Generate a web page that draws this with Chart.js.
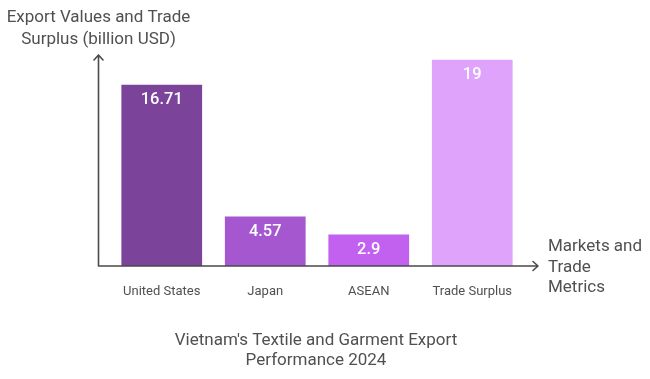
<!DOCTYPE html>
<html>
<head>
<meta charset="utf-8">
<style>
html,body{margin:0;padding:0;background:#fff;}
#wrap{width:650px;height:379px;}
</style>
<script src="https://cdn.jsdelivr.net/npm/chart.js@4/dist/chart.umd.min.js"></script>
</head>
<body>
<div id="wrap"><canvas id="c" width="650" height="379"></canvas></div>
<script>
const categories = ["United States", "Japan", "ASEAN", "Trade Surplus"];
const values = [16.71, 4.57, 2.9, 19];
const valueLabels = ["16.71", "4.57", "2.9", "19"];
const barColors = ["#7B449A", "#A557D0", "#C261F0", "#DFA3FB"];
const yTitle = ["Export Values and Trade", "Surplus (billion USD)"];
const xTitle = ["Markets and", "Trade", "Metrics"];
const chartTitle = ["Vietnam's Textile and Garment Export", "Performance 2024"];

const FONT = "Roboto, 'Liberation Sans', sans-serif";
const TEXT = "#505050";

const decor = {
  id: 'decor',
  afterDatasetsDraw(chart) {
    const ctx = chart.ctx;
    const area = chart.chartArea;
    const xs = chart.scales.x;
    const ys = chart.scales.y;
    const base = ys.getPixelForValue(0);
    const axX = area.left - 11.5;
    ctx.save();
    // axes
    ctx.strokeStyle = "#4a4a4a";
    ctx.lineWidth = 1.6;
    ctx.lineCap = "round";
    ctx.lineJoin = "round";
    ctx.beginPath();
    ctx.moveTo(axX, base);
    ctx.lineTo(axX, 55);
    ctx.moveTo(axX - 4.5, 60);
    ctx.lineTo(axX, 55);
    ctx.lineTo(axX + 4.5, 60);
    ctx.moveTo(axX, base);
    ctx.lineTo(538, base);
    ctx.moveTo(533, base - 4.5);
    ctx.lineTo(538, base);
    ctx.lineTo(533, base + 4.5);
    ctx.stroke();

    // value labels
    const meta = chart.getDatasetMeta(0);
    ctx.fillStyle = "#ffffff";
    ctx.font = "500 16.5px " + FONT;
    ctx.textAlign = "center";
    ctx.textBaseline = "middle";
    meta.data.forEach((bar, i) => {
      ctx.fillText(valueLabels[i], bar.x, bar.y + 15.5);
    });

    // category labels
    ctx.fillStyle = TEXT;
    ctx.font = "13px " + FONT;
    categories.forEach((c, i) => {
      ctx.fillText(c, xs.getPixelForValue(i), 292);
    });

    // y axis title
    ctx.font = "17px " + FONT;
    yTitle.forEach((t, i) => ctx.fillText(t, axX, 18 + i * 22));

    // x axis title
    ctx.textAlign = "left";
    xTitle.forEach((t, i) => ctx.fillText(t, 548, 247 + i * 20.5));

    // chart title
    ctx.textAlign = "center";
    chartTitle.forEach((t, i) => ctx.fillText(t, 316, 341 + i * 19.5));
    ctx.restore();
  }
};

new Chart(document.getElementById('c'), {
  type: 'bar',
  data: {
    labels: categories,
    datasets: [{
      data: values,
      backgroundColor: barColors,
      borderWidth: 0,
      barPercentage: 0.78,
      categoryPercentage: 1.0
    }]
  },
  options: {
    responsive: false,
    animation: false,
    devicePixelRatio: 1,
    layout: { padding: { left: 110, right: 126, top: 49, bottom: 113 } },
    plugins: { legend: { display: false }, tooltip: { enabled: false }, title: { display: false } },
    scales: {
      x: { display: false },
      y: { display: false, min: 0, max: 20 }
    }
  },
  plugins: [decor]
});
</script>
</body>
</html>
